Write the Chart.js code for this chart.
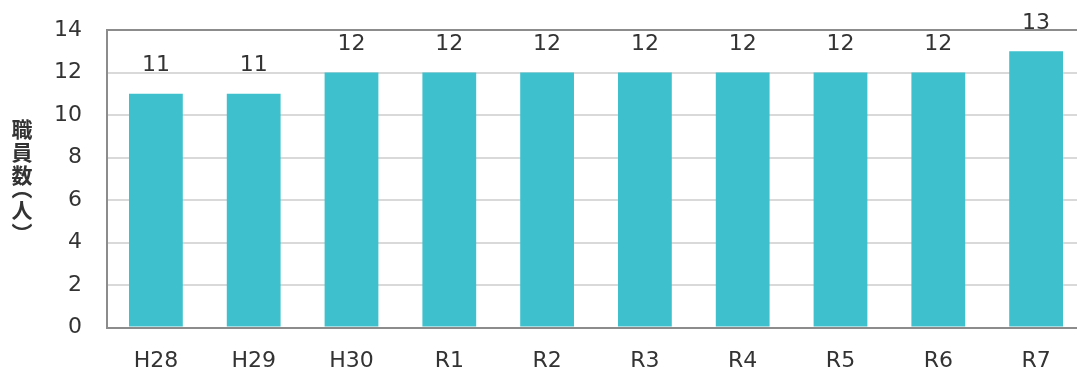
<!DOCTYPE html>
<html lang="ja">
<head>
<meta charset="utf-8">
<script src="https://cdn.jsdelivr.net/npm/chart.js@4/dist/chart.umd.min.js"></script>
<style>
  html, body { margin: 0; padding: 0; background: #fff; overflow: hidden; }
  #wrap { position: relative; width: 1085px; height: 374px; }
  #yTitle {
    position: absolute; left: 11px; top: 177px; transform: translateY(-50%);
    writing-mode: vertical-rl; font-feature-settings: "vpal";
    font-family: "Noto Sans CJK JP", sans-serif; font-weight: bold;
    font-size: 21px; letter-spacing: 2px; color: #333; line-height: 1;
  }
</style>
</head>
<body>
<div id="wrap">
  <canvas id="staffChart" width="1085" height="374"></canvas>
  <div id="yTitle">職員数（人）</div>
</div>
<script>
const years = ['H28', 'H29', 'H30', 'R1', 'R2', 'R3', 'R4', 'R5', 'R6', 'R7'];
const staffCount = [11, 11, 12, 12, 12, 12, 12, 12, 12, 13];
const yTicks = [0, 2, 4, 6, 8, 10, 12, 14];

const FONT = 'DejaVu Sans, Verdana, sans-serif';
const TEXT_COLOR = '#333333';
const AXIS_COLOR = '#8c8c8c';

// prints each bar's value above it
const valueLabels = {
  id: 'valueLabels',
  afterDatasetsDraw(chart) {
    const ctx = chart.ctx;
    const meta = chart.getDatasetMeta(0);
    ctx.save();
    ctx.font = '22px ' + FONT;
    ctx.fillStyle = TEXT_COLOR;
    ctx.textAlign = 'center';
    ctx.textBaseline = 'middle';
    meta.data.forEach((bar, i) => {
      ctx.fillText(String(chart.data.datasets[0].data[i]), bar.x, bar.y - 28);
    });
    ctx.restore();
  }
};

const ctx = document.getElementById('staffChart').getContext('2d');
new Chart(ctx, {
  type: 'bar',
  data: {
    labels: years,
    datasets: [{
      data: staffCount,
      backgroundColor: '#3EC1CD',
      borderWidth: 0,
      categoryPercentage: 1,
      barPercentage: 0.55
    }]
  },
  options: {
    responsive: false,
    animation: false,
    layout: { padding: { left: 29, top: 30, right: 0, bottom: -20 } },
    plugins: {
      legend: { display: false },
      tooltip: { enabled: false }
    },
    scales: {
      x: {
        grid: { display: false, drawTicks: false },
        border: { color: AXIS_COLOR, width: 2, z: 1 },
        ticks: { color: TEXT_COLOR, font: { family: FONT, size: 22 }, padding: 20 }
      },
      y: {
        min: 0,
        max: 14,
        afterBuildTicks(axis) {
          axis.ticks = yTicks.map(v => ({ value: v }));
        },
        afterFit(axis) {
          // the layout padding alone decides where the plot starts
          axis.paddingTop = 0;
          axis.paddingBottom = 0;
        },
        grid: {
          drawTicks: false,
          lineWidth: 2,
          color: c => (c.tick && (c.tick.value === 14 || c.tick.value === 0) ? AXIS_COLOR : '#d9d9d9')
        },
        border: { color: AXIS_COLOR, width: 2 },
        ticks: { color: TEXT_COLOR, font: { family: FONT, size: 22 }, padding: 25 }
      }
    }
  },
  plugins: [valueLabels]
});
</script>
</body>
</html>
